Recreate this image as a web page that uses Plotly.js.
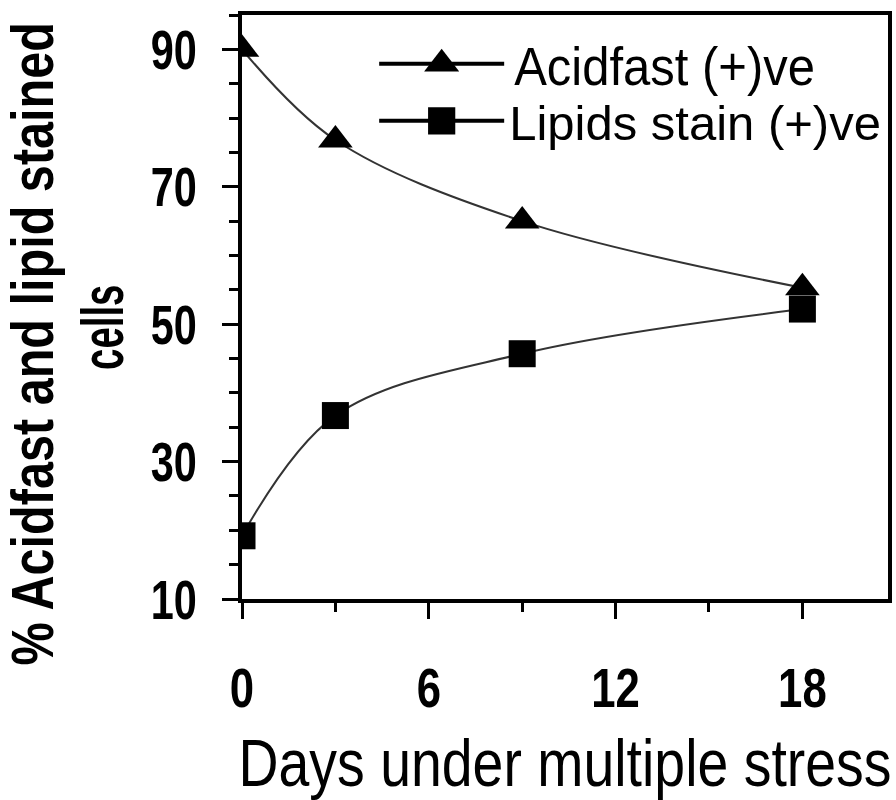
<!DOCTYPE html>
<html>
<head>
<meta charset="utf-8">
<script src="https://cdn.plot.ly/plotly-3.0.1.min.js"></script>
<style>html,body{margin:0;padding:0;background:#fff;}</style>
</head>
<body>
<div id="chart" style="width:896px;height:800px;"></div>
<script>
const days = [0, 3, 9, 18];
const acidfast = [90, 76.8, 65, 55.3];
const lipids = [19.2, 36.7, 45.7, 52.2];
const seriesNames = ["Acidfast (+)ve", "Lipids stain (+)ve"];
const xTicks = [0, 6, 12, 18];
const yTicks = [10, 30, 50, 70, 90];
const xTitle = "Days under multiple stress";
const yTitle1 = "% Acidfast and lipid stained";
const yTitle2 = "cells";

const SANS = "'Liberation Sans', Arial, sans-serif";

const traces = [
  {
    x: days, y: acidfast, name: seriesNames[0], type: "scatter", mode: "lines+markers",
    line: {shape: "spline", smoothing: 1, color: "#333", width: 2},
    marker: {symbol: "triangle-up", size: 30, color: "#000"},
    legend: "legend"
  },
  {
    x: days, y: lipids, name: seriesNames[1], type: "scatter", mode: "lines+markers",
    line: {shape: "spline", smoothing: 1, color: "#333", width: 2},
    marker: {symbol: "square", size: 27, color: "#000"},
    legend: "legend2"
  }
];

const legendCommon = {
  xanchor: "left", yanchor: "middle", bgcolor: "rgba(0,0,0,0)", borderwidth: 0,
  font: {family: SANS, size: 49, color: "#000"}, itemwidth: 125
};

const layout = {
  width: 896, height: 800,
  margin: {l: 242, r: 8, t: 15, b: 201, autoexpand: false},
  paper_bgcolor: "#fff", plot_bgcolor: "#fff",
  showlegend: true,
  legend: Object.assign({}, legendCommon, {x: 0.2046, y: 1 - (64 - 15) / 584}),
  legend2: Object.assign({}, legendCommon, {x: 0.2046, y: 1 - (121 - 15) / 584}),
  xaxis: {
    range: [0, 20.75], tickvals: xTicks, ticktext: xTicks.map(String),
    ticks: "outside", ticklen: 16, tickwidth: 3, tickcolor: "#000",
    showline: true, linewidth: 4, linecolor: "#000", mirror: true,
    showgrid: false, zeroline: false, automargin: false,
    minor: {dtick: 3, tick0: 0, ticks: "outside", ticklen: 9, tickwidth: 3, tickcolor: "#000", showgrid: false},
    tickfont: {family: SANS, size: 56, color: "#000", weight: "bold"},
    ticklabelstandoff: 21,
    title: {text: xTitle, font: {family: SANS, size: 66, color: "#000"}, standoff: 35}
  },
  yaxis: {
    range: [10, 95], tickvals: yTicks, ticktext: yTicks.map(String),
    ticks: "outside", ticklen: 16, tickwidth: 3, tickcolor: "#000",
    showline: true, linewidth: 4, linecolor: "#000", mirror: true,
    showgrid: false, zeroline: false, automargin: false,
    minor: {dtick: 5, tick0: 0, ticks: "outside", ticklen: 9, tickwidth: 3, tickcolor: "#000", showgrid: false},
    tickfont: {family: SANS, size: 56, color: "#000", weight: "bold"},
    ticklabelstandoff: 14
  },
  annotations: [
    {text: yTitle1, xref: "paper", yref: "paper", x: (32 - 242) / 646, y: 1 - (344 - 15) / 584,
     xanchor: "center", yanchor: "middle", textangle: -90, showarrow: false,
     font: {family: SANS, size: 60, color: "#000", weight: "bold"}},
    {text: yTitle2, xref: "paper", yref: "paper", x: (102 - 242) / 646, y: 1 - (328 - 15) / 584,
     xanchor: "center", yanchor: "middle", textangle: -90, showarrow: false,
     font: {family: SANS, size: 60, color: "#000", weight: "bold"}}
  ]
};

// Reshape the glyphs (in each text's own frame) to match the condensed, tall lettering.
function squeeze(el, sx, sy, anchor, dx) {
  const b = el.getBBox();
  const cx = anchor === "left" ? b.x : anchor === "right" ? b.x + b.width : b.x + b.width / 2;
  const cy = b.y + b.height / 2;
  const t = el.getAttribute("transform") || "";
  el.setAttribute("transform",
    t + " translate(" + (cx + (dx || 0)) + "," + cy + ") scale(" + sx + "," + sy + ") translate(" + (-cx) + "," + (-cy) + ")");
}

Plotly.newPlot("chart", traces, layout, {displayModeBar: false, staticPlot: true}).then(function () {
  document.querySelectorAll("g.ytick text").forEach(function (t) { squeeze(t, 0.74, 1, "right"); });
  document.querySelectorAll("g.xtick text").forEach(function (t) { squeeze(t, 0.78, 1, "center"); });
  document.querySelectorAll("text.xtitle").forEach(function (t) { squeeze(t, 0.84, 1, "center"); });
  const ann = document.querySelectorAll("g.annotation text");
  if (ann[0]) squeeze(ann[0], 0.81, 1, "center");
  if (ann[1]) squeeze(ann[1], 0.64, 1, "center");
  document.querySelectorAll("text.legendtext").forEach(function (t) { squeeze(t, 1, 1.1, "left", 5); });
  document.querySelectorAll(".legendpoints path.scatterpts").forEach(function (p, i) {
    const t = p.getAttribute("transform") || "";
    p.setAttribute("transform", t + (i === 0 ? " scale(1.9)" : " scale(1.7)"));
  });
  document.querySelectorAll(".legendlines path").forEach(function (p) {
    p.style.strokeWidth = "4px";
    p.style.stroke = "#000";
  });
});
</script>
</body>
</html>
